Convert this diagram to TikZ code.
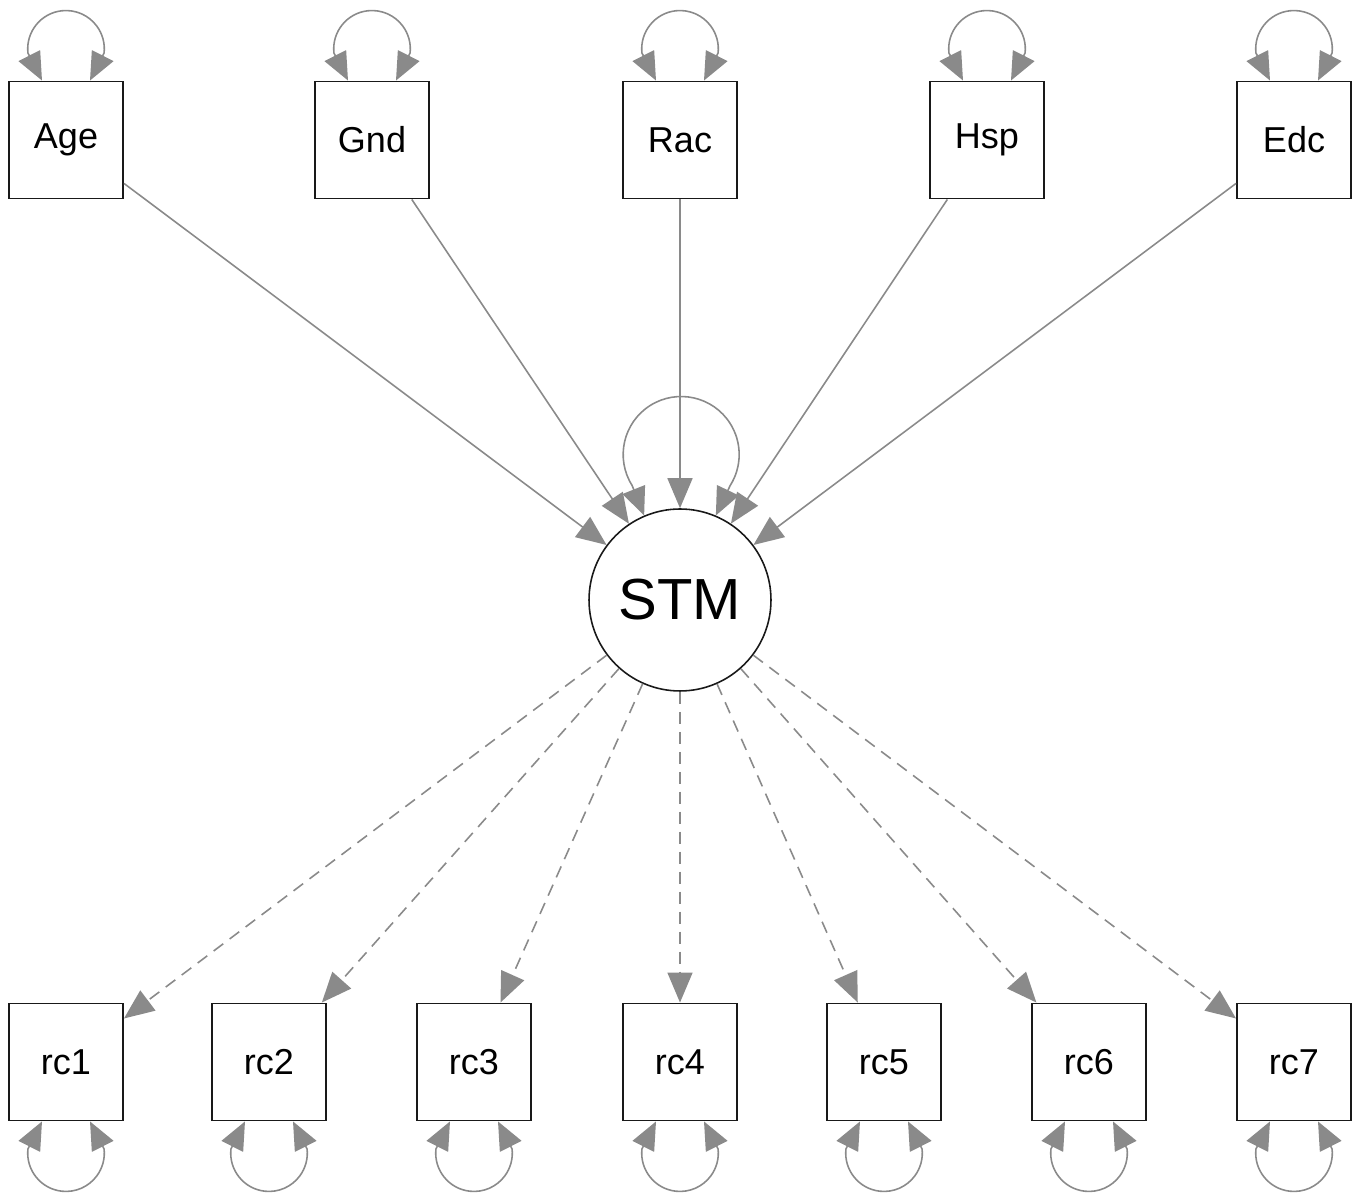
\documentclass[tikz,border=0pt]{standalone}
\usepackage{fontspec}
\setmainfont{Liberation Sans}
\usetikzlibrary{arrows.meta,positioning}
\definecolor{flecha}{RGB}{138,138,138}
\definecolor{borde}{RGB}{25,25,25}

\tikzset{
  obs/.style={draw=borde,line width=1.1pt,fill=white,minimum width=2.28cm,minimum height=2.34cm,inner sep=0pt,font=\fontsize{20.5}{24}\selectfont},
  lat/.style={circle,draw=borde,line width=0.9pt,fill=white,minimum size=3.64cm,inner sep=0pt,font=\fontsize{33}{38}\selectfont},
  reg/.style={draw=flecha,line width=0.9pt,-{Triangle[length=0.6cm,width=0.5cm]}},
  carga/.style={reg,dash pattern=on 0.24cm off 0.16cm},
  var/.style={draw=flecha,line width=0.9pt,{Triangle[length=0.56cm,width=0.48cm]}-{Triangle[length=0.56cm,width=0.48cm]}}
}

\begin{document}
\begin{tikzpicture}[x=0.02cm,y=0.02cm]
\useasboundingbox (0,0) rectangle (1360,1197);

% covariables
\node[obs] (age) at (66,1057) {Age};
\node[obs] (gnd) at (372,1057) {Gnd};
\node[obs] (rac) at (680,1057) {Rac};
\node[obs] (hsp) at (987,1057) {Hsp};
\node[obs] (edc) at (1294,1057) {Edc};

% factor latente
\node[lat] (stm) at (680,597) {STM};

% indicadores
\node[obs] (rc1) at (66,135) {rc1};
\node[obs] (rc2) at (269,135) {rc2};
\node[obs] (rc3) at (474,135) {rc3};
\node[obs] (rc4) at (680,135) {rc4};
\node[obs] (rc5) at (884,135) {rc5};
\node[obs] (rc6) at (1089,135) {rc6};
\node[obs] (rc7) at (1294,135) {rc7};

% regresiones
\draw[reg] (age) -- (stm);
\draw[reg] (gnd) -- (stm);
\draw[reg] (rac) -- (stm);
\draw[reg] (hsp) -- (stm);
\draw[reg] (edc) -- (stm);

% cargas
\draw[carga] (stm) -- (rc1);
\draw[carga] (stm) -- (rc2);
\draw[carga] (stm) -- (rc3);
\draw[carga] (stm) -- (rc4);
\draw[carga] (stm) -- (rc5);
\draw[carga] (stm) -- (rc6);
\draw[carga] (stm) -- (rc7);

% varianzas
\draw[var] (stm.113) -- ++(-12,30) arc[start angle=212.3,end angle=-32.3,radius=58] -- (stm.67);
\foreach \n in {age,gnd,rac,hsp,edc}
  \draw[var] ([shift={(-24,0)}]\n.north) -- ++(117:31) arc[start angle=186.1,end angle=-6.1,radius=38.3] -- ([shift={(24,0)}]\n.north);
\foreach \n in {rc1,rc2,rc3,rc4,rc5,rc6,rc7}
  \draw[var] ([shift={(-24,0)}]\n.south) -- ++(-117:31) arc[start angle=173.9,end angle=366.1,radius=38.3] -- ([shift={(24,0)}]\n.south);
\end{tikzpicture}
\end{document}
